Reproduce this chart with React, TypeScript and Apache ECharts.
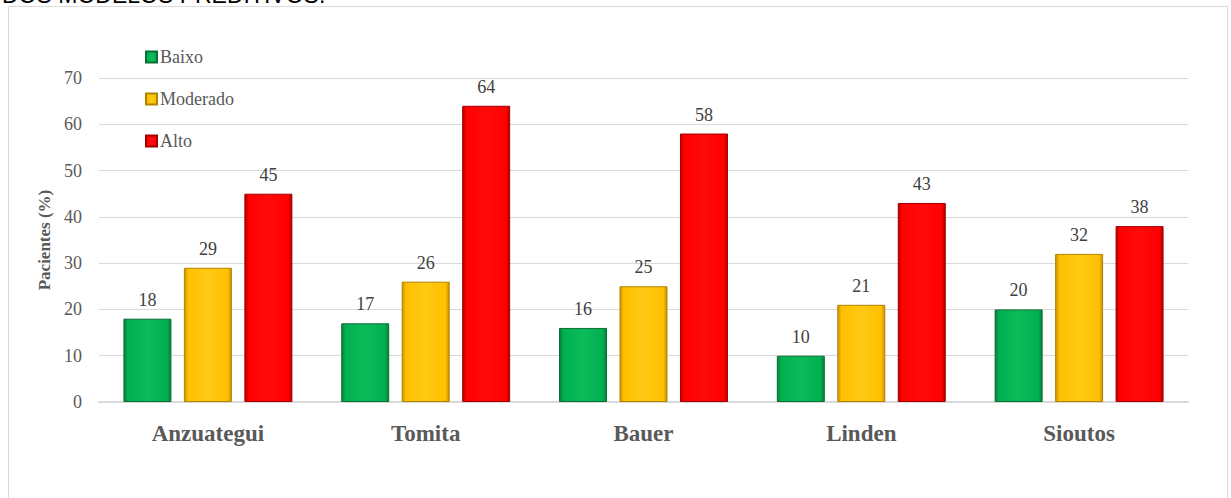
import React, { useEffect, useRef } from "react";
import * as echarts from "echarts";

const categories = ["Anzuategui", "Tomita", "Bauer", "Linden", "Sioutos"];
const baixo = [18, 17, 16, 10, 20];
const moderado = [29, 26, 25, 21, 32];
const alto = [45, 64, 58, 43, 38];
const seriesNames = ["Baixo", "Moderado", "Alto"];

const FONT = "'Liberation Serif', 'Times New Roman', serif";

function grad(edge: string, mid: string, light: string) {
  return new echarts.graphic.LinearGradient(0, 0, 1, 0, [
    { offset: 0, color: edge },
    { offset: 0.08, color: mid },
    { offset: 0.5, color: light },
    { offset: 0.92, color: mid },
    { offset: 1, color: edge },
  ]);
}

export default function App() {
  const ref = useRef<HTMLDivElement>(null);
  useEffect(() => {
    const chart = echarts.init(ref.current!, null, { renderer: "svg" });
    const colors = [
      { edge: "#0a7a3a", mid: "#00b050", light: "#0cbc5a", border: "#0b6e35" },
      { edge: "#c99400", mid: "#ffc000", light: "#ffc914", border: "#b08400" },
      { edge: "#b00000", mid: "#ff0000", light: "#ff0a0a", border: "#a00000" },
    ];
    const data = [baixo, moderado, alto];
    chart.setOption({
      animation: false,
      backgroundColor: "#ffffff",
      graphic: [
        {
          type: "rect",
          shape: { x: 8.5, y: 6.5, width: 1219, height: 500 },
          style: { fill: "none", stroke: "#d9d9d9", lineWidth: 1 },
          silent: true,
        },
        {
          type: "text",
          left: 2,
          top: -17,
          style: {
            text: "DOS MODELOS PREDITIVOS.",
            fontFamily: "'Liberation Sans', Arial, sans-serif",
            fontSize: 23,
            fill: "#000000",
          },
        },
      ],
      legend: {
        orient: "vertical",
        left: 140,
        top: 43,
        itemGap: 24,
        itemWidth: 11,
        itemHeight: 11,
        icon: "rect",
        data: seriesNames,
        textStyle: { fontFamily: FONT, fontSize: 18, color: "#595959", padding: [0, 0, 0, -2] },
      },
      grid: { left: 99, right: 43, top: 78, bottom: 96, containLabel: false },
      xAxis: {
        type: "category",
        data: categories,
        axisLine: { lineStyle: { color: "#d9d9d9", width: 2 } },
        axisTick: { show: false },
        axisLabel: {
          fontFamily: FONT,
          fontSize: 23,
          fontWeight: "bold",
          color: "#595959",
          margin: 20,
        },
      },
      yAxis: {
        type: "value",
        min: 0,
        max: 70,
        interval: 10,
        name: "Pacientes (%)",
        nameLocation: "middle",
        nameGap: 46,
        nameTextStyle: { fontFamily: FONT, fontSize: 17, fontWeight: "bold", color: "#595959" },
        axisLine: { show: false },
        axisTick: { show: false },
        axisLabel: { fontFamily: FONT, fontSize: 18, color: "#595959", margin: 17 },
        splitLine: { lineStyle: { color: "#d9d9d9", width: 1 } },
      },
      series: data.map((d, i) => ({
        name: seriesNames[i],
        type: "bar",
        data: d,
        barWidth: 48,
        barGap: "26%",
        itemStyle: {
          color: grad(colors[i].edge, colors[i].mid, colors[i].light),
          borderColor: colors[i].border,
          borderWidth: 1,
        },
        label: {
          show: true,
          position: "top",
          distance: 10,
          fontFamily: FONT,
          fontSize: 18,
          color: "#404040",
        },
      })),
    });
    return () => chart.dispose();
  }, []);
  return (
    <div
      ref={ref}
      style={{ position: "absolute", left: 0, top: 0, width: 1231, height: 498 }}
    />
  );
}
